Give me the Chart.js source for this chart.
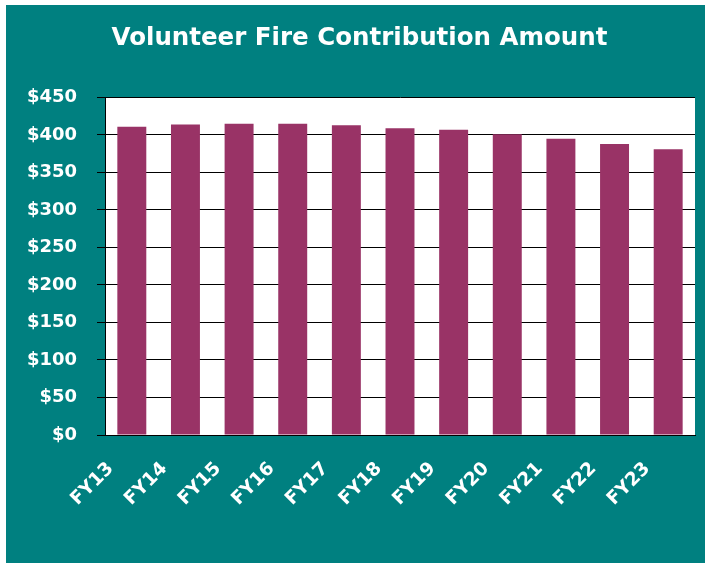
<!DOCTYPE html>
<html>
<head>
<meta charset="utf-8">
<script src="https://cdn.jsdelivr.net/npm/chart.js@4/dist/chart.umd.min.js"></script>
<style>
  html, body { margin: 0; padding: 0; background: #fff; }
  #wrap { position: absolute; left: 6px; top: 5px; width: 699px; height: 558px; background: #008080; }
  canvas { display: block; }
</style>
</head>
<body>
<div id="wrap"><canvas id="chart" width="699" height="558"></canvas></div>
<script>
const years = ["FY13", "FY14", "FY15", "FY16", "FY17", "FY18", "FY19", "FY20", "FY21", "FY22", "FY23"];
const amounts = [411, 414, 415, 415, 413, 409, 407, 401, 395, 388, 381];
const yTicks = [0, 50, 100, 150, 200, 250, 300, 350, 400, 450];

// white plot background behind the bars
const plotBackground = {
  id: "plotBackground",
  beforeDraw(chart) {
    const { ctx, chartArea: a } = chart;
    ctx.save();
    ctx.fillStyle = "#ffffff";
    ctx.fillRect(a.left, a.top, a.right - a.left, a.bottom - a.top);
    ctx.restore();
  }
};

const font = "'DejaVu Sans', sans-serif";

new Chart(document.getElementById("chart"), {
  type: "bar",
  data: {
    labels: years,
    datasets: [{
      data: amounts,
      backgroundColor: "#993366",
      borderWidth: 0,
      categoryPercentage: 1,
      barPercentage: 0.54
    }]
  },
  options: {
    responsive: false,
    animation: false,
    layout: { padding: { left: 18, right: 10, top: 0, bottom: 0 } },
    plugins: {
      legend: { display: false },
      tooltip: { enabled: false },
      title: {
        display: true,
        text: "Volunteer Fire Contribution Amount",
        color: "#ffffff",
        font: { family: font, size: 24.5, weight: "bold", lineHeight: 1.2 },
        padding: { top: 19, bottom: 44 }
      }
    },
    scales: {
      x: {
        grid: { display: false },
        border: { display: true, color: "#000000", width: 1 },
        ticks: {
          color: "#ffffff",
          font: { family: font, size: 18.5, weight: "bold" },
          minRotation: 45,
          maxRotation: 45,
          labelOffset: -21,
          padding: 15
        },
        afterFit(scale) {
          // fixed axis height; rotated labels may spill sideways without shrinking the plot
          scale.height = 128;
          scale.paddingLeft = 0;
          scale.paddingRight = 0;
        }
      },
      y: {
        min: 0,
        max: 450,
        afterBuildTicks(scale) { scale.ticks = yTicks.map(v => ({ value: v })); },
        grid: { color: "#000000", lineWidth: 1, tickLength: 8, drawTicks: true },
        border: { display: true, color: "#000000", width: 1 },
        ticks: {
          color: "#ffffff",
          font: { family: font, size: 18, weight: "bold" },
          padding: 20,
          callback: v => "$" + v
        },
        afterFit(scale) { scale.width = 81; }
      }
    }
  },
  plugins: [plotBackground]
});
</script>
</body>
</html>
